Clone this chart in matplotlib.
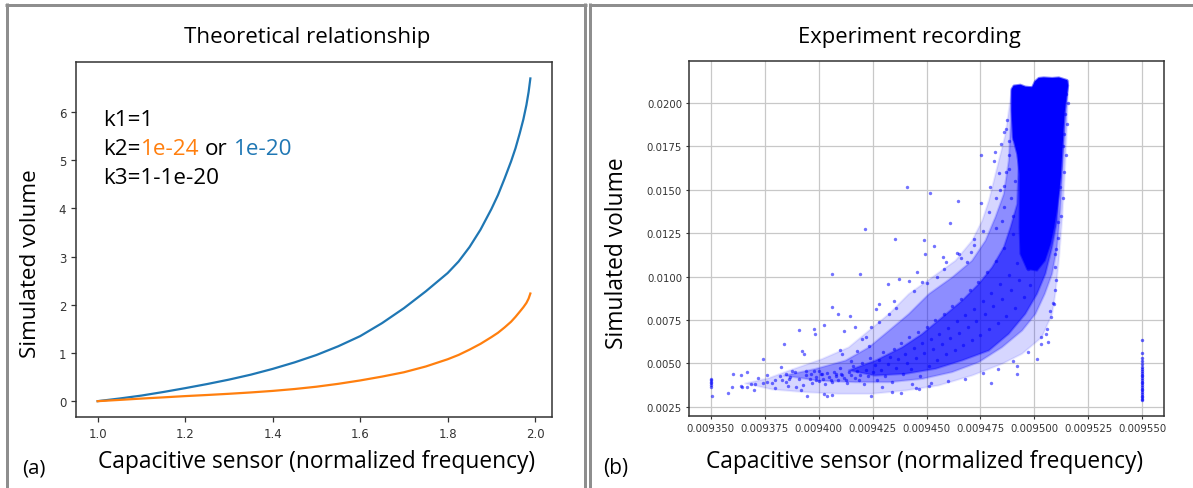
import numpy as np
import matplotlib
matplotlib.use("Agg")
import matplotlib.pyplot as plt
from matplotlib.patches import Polygon
from matplotlib.ticker import FixedLocator, FormatStrFormatter

# ---------------- Panel (a): theoretical relationship ----------------
theory_freq = [1.0, 1.05, 1.1, 1.15, 1.2, 1.25, 1.3, 1.35, 1.4, 1.45, 1.5, 1.55,
               1.6, 1.65, 1.7, 1.75, 1.8, 1.825, 1.85, 1.875, 1.9, 1.915, 1.93,
               1.945, 1.955, 1.965, 1.973, 1.98, 1.985, 1.989]
volume_k2_1e20 = [0.0, 0.055, 0.116, 0.19, 0.27, 0.355, 0.447, 0.55, 0.67, 0.805,
                  0.958, 1.14, 1.35, 1.62, 1.93, 2.28, 2.66, 2.90, 3.20, 3.56,
                  3.99, 4.28, 4.62, 4.98, 5.25, 5.57, 5.85, 6.15, 6.42, 6.70]
volume_k2_1e24 = [0.0, 0.026, 0.054, 0.079, 0.105, 0.128, 0.153, 0.181, 0.213, 0.252,
                  0.30, 0.36, 0.43, 0.51, 0.60, 0.72, 0.87, 0.96, 1.07, 1.19,
                  1.33, 1.42, 1.53, 1.65, 1.75, 1.86, 1.95, 2.04, 2.13, 2.235]
theory_xticks = [1.0, 1.2, 1.4, 1.6, 1.8, 2.0]
theory_yticks = [0, 1, 2, 3, 4, 5, 6]

# ---------------- Panel (b): experiment recording ----------------
# x in units of 1e-6 (normalized frequency), y in units of 1e-4 (volume)
column_low_freq = [(9350, 41.1), (9350, 40.2), (9350, 39.4), (9350, 38.6),
                   (9350, 37.8), (9350, 36.5), (9350.8, 31.5)]
column_high_freq_y = [63.6, 56.0, 53.0, 51.2, 49.5, 48.0, 46.8, 45.5, 44.5, 43.5,
                      42.5, 41.5, 40.5, 39.5, 38.5, 37.5, 36.5, 35.5, 34.5, 33.5,
                      32.5, 31.5, 30.6, 29.8, 29.2]
column_high_freq_x = 9550
sparse_points = [
    (9358.2, 33.1), (9360.0, 36.7), (9360.3, 43.8), (9363.9, 43.4), (9363.9, 36.9),
    (9364.7, 36.3), (9367.0, 45.0), (9367.0, 36.7), (9368.5, 38.4), (9370.0, 34.6),
    (9370.8, 38.2), (9374.2, 52.4), (9374.2, 39.0), (9376.2, 39.6), (9378.5, 39.0),
    (9379.8, 35.7), (9382.4, 47.8), (9383.2, 40.2), (9383.9, 61.3), (9384.7, 44.0),
    (9386.3, 41.1), (9387.8, 45.9), (9389.4, 36.3), (9390.9, 69.3), (9392.4, 57.4),
    (9393.2, 55.5), (9394.0, 45.9), (9394.8, 31.5), (9396.3, 44.0), (9397.8, 69.9),
    (9398.3, 67.0), (9398.6, 40.2), (9400.2, 45.9), (9401.7, 44.0), (9402.5, 72.2),
    (9402.5, 32.5), (9404.0, 31.0), (9405.6, 40.2), (9406.3, 101.6), (9406.3, 31.9),
    (9406.0, 82.6), (9407.9, 44.0), (9409.1, 78.5), (9410.2, 44.0), (9411.0, 55.5),
    (9411.7, 68.9), (9412.5, 40.2), (9414.5, 77.4), (9414.8, 51.7), (9417.1, 70.9),
    (9417.9, 57.4), (9418.7, 40.2), (9419.4, 101.6), (9421.3, 127.5), (9421.8, 65.1),
    (9423.3, 60.3), (9424.5, 31.5), (9424.1, 70.9), (9426.4, 81.4), (9428.0, 84.3),
    (9429.5, 36.3), (9432.0, 95.8), (9432.6, 78.5), (9434.1, 33.4), (9434.9, 86.2),
    (9435.6, 121.7), (9437.2, 98.5), (9438.0, 33.1), (9441.0, 151.8), (9441.8, 97.7),
    (9443.4, 38.2), (9445.8, 102.7), (9446.5, 35.4), (9448.0, 96.7), (9448.8, 121.3),
    (9449.3, 113.1), (9451.1, 37.3), (9451.7, 148.0), (9453.4, 117.9), (9455.0, 99.6),
    (9457.7, 111.1), (9459.1, 108.3), (9461.0, 130.7), (9463.9, 113.4), (9464.4, 143.8),
    (9465.0, 113.0), (9468.8, 108.3), (9470.8, 114.0), (9471.9, 121.7), (9475.3, 142.2),
    (9475.3, 170.2), (9479.6, 151.4), (9480.1, 38.6), (9481.9, 171.8), (9481.1, 166.8),
    (9483.5, 159.5), (9484.3, 176.4), (9485.8, 183.1), (9486.6, 185.0), (9490.4, 179.3),
    (9492.0, 48.8), (9492.0, 44.0), (9501.2, 52.6), (9502.8, 65.1), (9505.4, 67.0),
    (9506.3, 62.2), (9507.2, 80.1), (9507.7, 76.6), (9508.6, 84.7), (9509.3, 92.5),
    (9509.7, 105.8), (9509.7, 113.1), (9511.0, 131.3), (9512.0, 151.4), (9513.1, 175.4),
    (9513.6, 182.1), (9514.0, 193.6), (9514.8, 205.2),
]
low_band_points = [
    (9380, 40.5), (9382, 43.0), (9385, 39.5), (9387, 42.0), (9389, 44.8), (9391, 40.8),
    (9393, 37.6), (9394, 43.2), (9396, 41.0), (9397, 38.8), (9398, 45.6), (9399, 42.4),
    (9400, 40.0), (9401, 43.8), (9402, 41.2), (9403, 37.9), (9404, 44.6), (9405, 42.0),
    (9406, 39.4), (9407, 45.2), (9408, 43.0), (9409, 40.6), (9410, 47.2), (9411, 43.6),
    (9412, 41.8), (9413, 39.0), (9414, 45.0), (9415, 43.2), (9416, 48.4), (9417, 41.4),
    (9418, 45.8), (9419, 43.6), (9420, 50.2), (9421, 38.4), (9422, 46.4), (9423, 42.8),
    (9424, 53.0), (9425, 44.8), (9426, 49.0), (9427, 40.6), (9428, 52.0), (9429, 46.2),
    (9430, 56.4), (9431, 43.0), (9432, 49.8), (9433, 54.0), (9434, 39.6), (9435, 58.6),
    (9436, 47.4), (9437, 52.4), (9438, 62.0), (9439, 44.2), (9440, 55.6), (9441, 50.0),
]
rise_band_points = [
    (9442, 65.4), (9443, 47.0), (9444, 58.8), (9445, 53.2), (9446, 68.0), (9447, 42.6),
    (9448, 61.6), (9449, 56.0), (9450, 71.2), (9451, 48.6), (9452, 64.0), (9453, 58.4),
    (9454, 75.0), (9455, 52.0), (9456, 67.2), (9457, 61.0), (9458, 78.4), (9459, 55.2),
    (9460, 70.6), (9461, 64.6), (9462, 83.0), (9463, 57.8), (9464, 74.2), (9465, 67.8),
    (9466, 87.4), (9467, 60.6), (9468, 77.8), (9469, 71.0), (9470, 92.2), (9471, 63.4),
    (9472, 81.6), (9473, 74.6), (9474, 97.0), (9475, 66.2), (9476, 86.0), (9477, 78.6),
    (9478, 102.6), (9479, 69.8), (9480, 90.4), (9481, 82.8), (9482, 109.0), (9483, 73.4),
    (9484, 95.6), (9485, 87.2), (9486, 116.4), (9487, 77.6), (9488, 101.2), (9489, 92.4),
    (9490, 124.8), (9491, 82.0), (9492, 107.6), (9493, 97.8), (9494, 134.0), (9495, 88.0),
    (9496, 114.4), (9497, 104.2), (9498, 95.0), (9499, 121.0), (9484, 150.0), (9487, 160.0),
    (9489, 145.0), (9486, 140.0), (9491, 155.0), (9488, 170.0), (9490, 135.0), (9482, 128.0),
    (9485, 132.0),
]
edge_points = [
    (9445, 36.0), (9452, 38.5), (9460, 40.0), (9468, 41.2), (9476, 44.5), (9483, 47.0),
    (9490, 51.5), (9497, 56.5), (9503, 61.0), (9506, 70.0), (9509, 84.0), (9510, 98.0),
    (9410, 58.0), (9420, 64.0), (9428, 74.0), (9436, 82.0), (9444, 92.0), (9450, 96.5),
    (9458, 104.5), (9466, 110.5), (9472, 118.0), (9476, 126.0), (9479, 137.0), (9482, 145.0),
    (9486, 152.0), (9488, 162.0), (9488, 178.0), (9487.5, 190.0), (9515.5, 200.0),
    (9515.0, 188.0), (9514.6, 170.0), (9513.8, 160.0), (9513.0, 145.0), (9512.3, 135.0),
    (9511.0, 122.0), (9510.0, 116.0), (9372, 41.5), (9376, 43.5), (9386, 37.0), (9392, 34.5),
]
# density envelopes of the point cloud (same units), from sparse to solid
cloud_light = [(9366.0, 38.5), (9377.0, 41.6), (9386.3, 45.9), (9401.7, 52.6), (9414.0, 59.3),
               (9423.3, 68.9), (9432.6, 78.5), (9441.8, 90.0), (9452.6, 99.6), (9463.4, 109.2),
               (9471.1, 120.7), (9475.8, 132.2), (9478.9, 143.8), (9483.5, 166.8), (9486.6, 182.1),
               (9489.4, 207.1), (9515.6, 212.8), (9515.1, 186.0), (9514.0, 157.2), (9512.8, 132.2),
               (9511.3, 109.2), (9509.7, 90.0), (9508.2, 78.5), (9503.5, 65.1), (9494.3, 55.5),
               (9485.0, 49.7), (9471.1, 43.0), (9455.7, 37.3), (9440.3, 34.4), (9424.8, 32.5),
               (9409.4, 32.5), (9394.0, 33.4), (9378.5, 35.0)]
cloud_medium = [(9384.0, 43.0), (9398.6, 46.9), (9412.5, 51.7), (9423.3, 59.3), (9432.6, 68.9),
                (9441.8, 78.5), (9451.1, 90.0), (9461.9, 99.6), (9471.1, 109.2), (9477.3, 120.7),
                (9481.9, 134.2), (9485.8, 147.6), (9488.1, 166.8), (9488.9, 186.0), (9489.4, 207.1),
                (9515.6, 212.8), (9514.3, 186.0), (9513.1, 161.0), (9512.0, 138.0), (9510.5, 116.9),
                (9508.2, 101.6), (9504.8, 90.0), (9500.5, 78.5), (9494.3, 68.9), (9485.0, 59.3),
                (9474.2, 50.7), (9461.9, 45.0), (9448.0, 41.1), (9432.6, 39.2), (9417.1, 39.2),
                (9400.0, 40.0)]
cloud_dense = [(9414.0, 46.0), (9426.4, 51.7), (9438.7, 59.3), (9448.0, 67.0), (9457.3, 76.6),
               (9466.5, 86.2), (9474.2, 95.8), (9480.4, 105.4), (9485.8, 116.9), (9488.9, 128.4),
               (9492.0, 141.8), (9492.7, 166.8), (9512.0, 166.8), (9510.5, 132.2), (9508.2, 116.9),
               (9505.1, 101.6), (9501.2, 90.0), (9495.8, 78.5), (9488.1, 67.0), (9478.9, 57.4),
               (9466.5, 51.7), (9454.2, 46.9), (9440.3, 44.0), (9426.0, 43.0)]
cloud_core = [(9489.4, 208.0), (9490.4, 210.0), (9493.5, 210.5), (9495.8, 209.4), (9498.9, 209.0),
              (9500.2, 212.4), (9502.0, 214.4), (9504.3, 214.7), (9508.2, 214.4), (9511.3, 214.7),
              (9515.1, 213.2), (9515.6, 210.0), (9514.8, 203.2), (9513.9, 193.6), (9513.1, 176.4),
              (9512.2, 157.2), (9511.3, 147.6), (9510.3, 138.0), (9509.1, 128.4), (9507.4, 118.8),
              (9504.8, 109.2), (9501.2, 103.5), (9496.6, 104.4), (9493.5, 113.1), (9493.1, 128.4),
              (9493.2, 141.8), (9493.2, 159.1), (9492.0, 170.6), (9490.0, 180.2), (9489.4, 195.6)]
cloud_levels = [(cloud_light, 0.16), (cloud_medium, 0.34), (cloud_dense, 0.55), (cloud_core, 1.0)]
exp_xticks = [0.009350, 0.009375, 0.009400, 0.009425, 0.009450, 0.009475,
              0.009500, 0.009525, 0.009550]
exp_yticks = [0.0025, 0.0050, 0.0075, 0.0100, 0.0125, 0.0150, 0.0175, 0.0200]

XU, YU = 1e-6, 1e-4

BLUE = '#1f77b4'
ORANGE = '#ff7f0e'
TXT = ['Open Sans', 'DejaVu Sans']
W, H = 1193, 489

fig = plt.figure(figsize=(W / 100, H / 100), dpi=100)
fig.patch.set_facecolor('white')


def fx(px):
    return px / W


def fy(py):
    return 1 - py / H


# panel frames
bg = fig.add_axes([0, 0, 1, 1], zorder=-10)
bg.set_xlim(0, W)
bg.set_ylim(H, 0)
bg.axis('off')
fc = '#8e8e8e'
lw = 3 * 72 / 100
bg.plot([6.5, 6.5], [4, H], color=fc, lw=lw, solid_capstyle='butt')
bg.plot([5, 586.5], [5.5, 5.5], color=fc, lw=lw, solid_capstyle='butt')
bg.plot([585, 585], [4, H], color=fc, lw=lw, solid_capstyle='butt')
bg.plot([590, 590], [4, H], color=fc, lw=lw, solid_capstyle='butt')
bg.plot([588.5, W], [5.5, 5.5], color=fc, lw=lw, solid_capstyle='butt')

# ---------- axes (a) ----------
axA = fig.add_axes([fx(76), fy(418.3), fx(552) - fx(76), (418.3 - 63.3) / H])
axA.plot(theory_freq, volume_k2_1e20, color=BLUE, lw=1.6)
axA.plot(theory_freq, volume_k2_1e24, color=ORANGE, lw=1.6)
axA.xaxis.set_major_locator(FixedLocator(theory_xticks))
axA.yaxis.set_major_locator(FixedLocator(theory_yticks))
axA.xaxis.set_major_formatter(FormatStrFormatter('%.1f'))
axA.tick_params(labelsize=8.5, labelcolor='#333333', color='#333333', length=3.5, width=0.9)
for s in axA.spines.values():
    s.set_color('#333333')
    s.set_linewidth(1.1)

# ---------- axes (b) ----------
axB = fig.add_axes([fx(689), fy(416.7), fx(1164) - fx(689), (416.7 - 62.3) / H])
axB.set_axisbelow(True)
axB.grid(True, color='#c8c8c8', lw=0.9)
for poly, a in cloud_levels:
    pts = np.array(poly, dtype=float)
    pts[:, 0] *= XU
    pts[:, 1] *= YU
    axB.add_patch(Polygon(pts, closed=True, facecolor=(0, 0, 1, a), edgecolor=(0, 0, 1, a * 0.5),
                          lw=1.5, joinstyle='round', zorder=2))

pt_groups = [column_low_freq, sparse_points, low_band_points, rise_band_points, edge_points]
for g in pt_groups:
    arr = np.array(g, dtype=float)
    axB.scatter(arr[:, 0] * XU, arr[:, 1] * YU, s=6, color='blue', alpha=0.55,
                linewidths=0, zorder=3)
axB.scatter([column_high_freq_x * XU] * len(column_high_freq_y),
            np.array(column_high_freq_y) * YU, s=6, color='blue', alpha=0.6,
            linewidths=0, zorder=3)
axB.xaxis.set_major_locator(FixedLocator(exp_xticks))
axB.yaxis.set_major_locator(FixedLocator(exp_yticks))
axB.xaxis.set_major_formatter(FormatStrFormatter('%.6f'))
axB.yaxis.set_major_formatter(FormatStrFormatter('%.4f'))
axB.tick_params(labelsize=7.3, labelcolor='#333333', color='#333333', length=2, pad=3, width=0.8)
for s in axB.spines.values():
    s.set_color('#333333')
    s.set_linewidth(1.1)
axB.autoscale_view()

# ---------- texts ----------
def ftext(x, y, s, size, **kw):
    kw.setdefault('family', TXT)
    kw.setdefault('color', 'black')
    return fig.text(fx(x), fy(y), s, fontsize=size, **kw)


def fit(t, target, dim='w'):
    fig.canvas.draw()
    r = fig.canvas.get_renderer()
    bb = t.get_window_extent(r)
    cur = bb.width if dim == 'w' else bb.height
    t.set_fontsize(t.get_fontsize() * target / cur)


tA = ftext(306.8, 43, 'Theoretical relationship', 14, ha='center', va='baseline')
tB = ftext(909.6, 42.7, 'Experiment recording', 14, ha='center', va='baseline')
xA = ftext(317, 468, 'Capacitive sensor (normalized frequency)', 15, ha='center', va='baseline')
xB = ftext(924.6, 468, 'Capacitive sensor (normalized frequency)', 15, ha='center', va='baseline')
yA = ftext(30.6, 264, 'Simulated volume', 15, ha='center', va='center', rotation=90)
yB = ftext(617, 253, 'Simulated volume', 15, ha='center', va='center', rotation=90)
pa = ftext(33.5, 468.5, '(a)', 14, ha='center', va='center')
pb = ftext(616, 468.3, '(b)', 14, ha='center', va='center')
fit(tA, 247.6)
fit(tB, 224)
fit(xA, 437)
fit(xB, 438.5)
fit(yA, 188, 'h')
fit(yB, 190, 'h')
fit(pa, 23.4)
fit(pb, 25)

# k-parameter annotation
k3 = ftext(103.3, 184, 'k3=1-1e-20', 15, ha='left', va='baseline')
fit(k3, 116)
kfs = k3.get_fontsize()
ftext(103.3, 126.5, 'k1=1', kfs, ha='left', va='baseline')
fig.canvas.draw()
r = fig.canvas.get_renderer()
xpos = 103.3
gap = kfs * 100 / 72 * 0.26
under = []
for s, c, g in (('k2=', 'black', 0), ('1e-24', ORANGE, gap), ('or', 'black', gap), ('1e-20', BLUE, 0)):
    t = ftext(xpos, 155, s, kfs, ha='left', va='baseline', color=c)
    bb = t.get_window_extent(r)
    if c != 'black':
        under.append((bb.x0, bb.x1, c))
    xpos = bb.x1 + g
pale = {ORANGE: '#fdd3ae', BLUE: '#aecde8'}
for x0, x1, c in under:
    bg.plot([x0, x1], [158.3, 158.3], color=pale[c], lw=1.6, solid_capstyle='butt')

fig.savefig('out.png', dpi=100, facecolor='white')
